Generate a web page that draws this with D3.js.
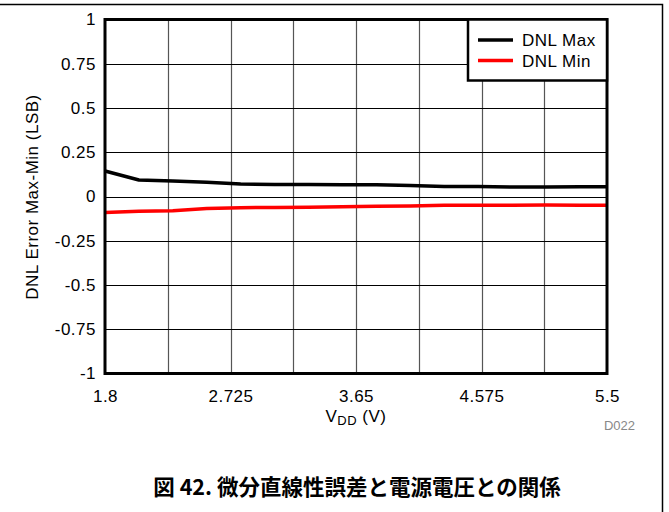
<!DOCTYPE html>
<html>
<head>
<meta charset="utf-8">
<script src="https://cdn.jsdelivr.net/npm/d3@7"></script>
<style>
  body { margin: 0; background: #fff; }
  svg text { font-family: "Liberation Sans", Arial, sans-serif; }
</style>
</head>
<body>
<div id="chart"></div>
<script>
// Data
var vdd = [1.8, 2.05, 2.3, 2.55, 2.8, 3.05, 3.3, 3.55, 3.8, 4.05, 4.3, 4.55, 4.8, 5.05, 5.3, 5.5];
var dnlMax = [0.144, 0.093, 0.088, 0.08, 0.07, 0.068, 0.068, 0.066, 0.067, 0.062, 0.057, 0.057, 0.054, 0.054, 0.055, 0.055];
var dnlMin = [-0.09, -0.083, -0.08, -0.068, -0.063, -0.062, -0.061, -0.058, -0.055, -0.054, -0.05, -0.05, -0.049, -0.048, -0.049, -0.05];
var xTicks = [1.8, 2.725, 3.65, 4.575, 5.5];
var yTicks = [-1, -0.75, -0.5, -0.25, 0, 0.25, 0.5, 0.75, 1];
var seriesNames = ["DNL Max", "DNL Min"];
var seriesColors = ["#000000", "#ff0000"];

var width = 669, height = 512;
var plot = {left: 105, top: 19.5, right: 607, bottom: 373.5};
var fontSize = 17, spacing = 0.5;

var svg = d3.select("#chart").append("svg")
    .attr("width", width)
    .attr("height", height);

// outer frame (top and right only)
svg.append("path")
    .attr("d", "M0,4.5H662.5V512")
    .attr("fill", "none")
    .attr("stroke", "#000")
    .attr("stroke-width", 1.5);

var x = d3.scaleLinear().domain([1.8, 5.5]).range([plot.left, plot.right]);
var y = d3.scaleLinear().domain([-1, 1]).range([plot.bottom, plot.top]);

// grid: vertical lines every half tick step
var xGrid = d3.range(1, 8).map(function (i) { return 1.8 + i * (5.5 - 1.8) / 8; });
svg.append("g").selectAll("line")
    .data(xGrid)
    .join("line")
    .attr("x1", function (d) { return Math.round(x(d)) + 0.5; })
    .attr("x2", function (d) { return Math.round(x(d)) + 0.5; })
    .attr("y1", plot.top)
    .attr("y2", plot.bottom)
    .attr("stroke", "#555")
    .attr("stroke-width", 1.2);

svg.append("g").selectAll("line")
    .data(yTicks.slice(1, -1))
    .join("line")
    .attr("x1", plot.left)
    .attr("x2", plot.right)
    .attr("y1", function (d) { return Math.round(y(d)) + 0.5; })
    .attr("y2", function (d) { return Math.round(y(d)) + 0.5; })
    .attr("stroke", "#000")
    .attr("stroke-width", 1);

// axes (labels only)
var yAxis = d3.axisLeft(y).tickValues(yTicks).tickSize(0).tickPadding(9)
    .tickFormat(function (d) { return String(d); });
var gy = svg.append("g").attr("transform", "translate(" + plot.left + ",0)").call(yAxis);
gy.select(".domain").remove();
gy.selectAll("text").attr("font-size", fontSize).attr("letter-spacing", spacing).attr("fill", "#000");

var xAxis = d3.axisBottom(x).tickValues(xTicks).tickSize(0).tickPadding(16)
    .tickFormat(function (d) { return String(d); });
var gx = svg.append("g").attr("transform", "translate(0," + plot.bottom + ")").call(xAxis);
gx.select(".domain").remove();
gx.selectAll("text").attr("font-size", fontSize).attr("letter-spacing", spacing).attr("fill", "#000");

// series lines
var line = d3.line()
    .x(function (d) { return x(d[0]); })
    .y(function (d) { return y(d[1]); });

[dnlMax, dnlMin].forEach(function (vals, i) {
    svg.append("path")
        .datum(vdd.map(function (v, j) { return [v, vals[j]]; }))
        .attr("d", line)
        .attr("fill", "none")
        .attr("stroke", seriesColors[i])
        .attr("stroke-width", 3.5)
        .attr("stroke-linejoin", "round");
});

// plot frame
svg.append("rect")
    .attr("x", plot.left)
    .attr("y", plot.top)
    .attr("width", plot.right - plot.left)
    .attr("height", plot.bottom - plot.top)
    .attr("fill", "none")
    .attr("stroke", "#000")
    .attr("stroke-width", 3);

// legend
var legend = svg.append("g");
legend.append("rect")
    .attr("x", 468)
    .attr("y", plot.top)
    .attr("width", plot.right - 468)
    .attr("height", 61)
    .attr("fill", "#fff")
    .attr("stroke", "#000")
    .attr("stroke-width", 2.5);

seriesNames.forEach(function (name, i) {
    var ly = 40 + i * 20.5;
    legend.append("line")
        .attr("x1", 478).attr("x2", 513)
        .attr("y1", ly).attr("y2", ly)
        .attr("stroke", seriesColors[i])
        .attr("stroke-width", 3.5);
    legend.append("text")
        .attr("x", 522)
        .attr("y", ly + 6)
        .attr("font-size", fontSize)
        .attr("letter-spacing", spacing)
        .text(name);
});

// axis titles
var xt = svg.append("text")
    .attr("x", 356)
    .attr("y", 422)
    .attr("text-anchor", "middle")
    .attr("font-size", fontSize)
    .attr("letter-spacing", spacing);
xt.append("tspan").text("V");
xt.append("tspan").attr("font-size", 13).attr("dy", 3).text("DD");
xt.append("tspan").attr("dy", -3).text(" (V)");

svg.append("text")
    .attr("transform", "translate(38,197) rotate(-90)")
    .attr("text-anchor", "middle")
    .attr("font-size", fontSize)
    .attr("letter-spacing", spacing)
    .text("DNL Error Max-Min (LSB)");

svg.append("text")
    .attr("x", 635)
    .attr("y", 430)
    .attr("text-anchor", "end")
    .attr("font-size", 13)
    .attr("fill", "#888")
    .text("D022");

// caption
svg.append("text")
    .attr("x", 357)
    .attr("y", 495)
    .attr("text-anchor", "middle")
    .attr("font-size", 21.5)
    .attr("font-weight", "bold")
    .style("font-family", "'Noto Sans CJK JP', 'Liberation Sans', sans-serif")
    .text("図 42. 微分直線性誤差と電源電圧との関係");
</script>
</body>
</html>
